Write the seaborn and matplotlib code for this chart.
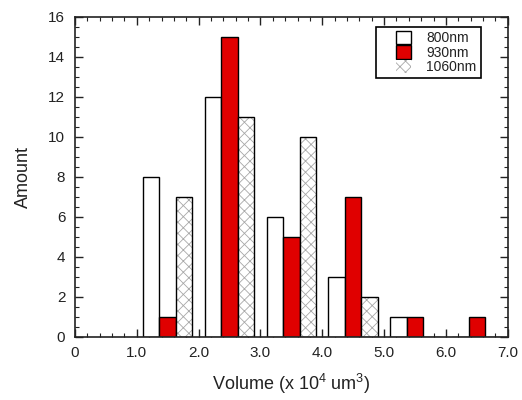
import matplotlib
matplotlib.use("Agg")
import matplotlib.pyplot as plt
import matplotlib.patches as mpatches
import pandas as pd
import seaborn as sns
from matplotlib.container import BarContainer
from matplotlib.legend_handler import HandlerPatch, update_from_first_child
from matplotlib.ticker import FixedLocator, MultipleLocator

# bin centres, volume in units of 10^4 um^3
volume_bins = [1.5, 2.5, 3.5, 4.5, 5.5, 6.5]
amount_800 = [8, 12, 6, 3, 1, 0]
amount_930 = [1, 15, 5, 7, 1, 1]
amount_1060 = [7, 11, 10, 2, 0, 0]
series_names = ["800nm", "930nm", "1060nm"]
x_ticks = [0, 1, 2, 3, 4, 5, 6, 7]
x_tick_labels = ["0", "1.0", "2.0", "3.0", "4.0", "5.0", "6.0", "7.0"]

df = pd.DataFrame({
    "volume": volume_bins * 3,
    "amount": amount_800 + amount_930 + amount_1060,
    "series": [s for s in series_names for _ in volume_bins],
})

sns.set_style("ticks")
plt.rcParams["font.family"] = ["Liberation Sans", "DejaVu Sans"]
plt.rcParams["mathtext.fontset"] = "custom"
plt.rcParams["mathtext.rm"] = "Liberation Sans"
plt.rcParams["mathtext.it"] = "Liberation Sans:italic"
plt.rcParams["hatch.linewidth"] = 0.6

fig = plt.figure(figsize=(5.22, 4.0), dpi=100)
ax = fig.add_axes([75 / 522, 1 - 336.7 / 400, 432.7 / 522, 320 / 400])

sns.barplot(data=df, x="volume", y="amount", hue="series", hue_order=series_names,
            native_scale=True, width=0.8, saturation=1, errorbar=None,
            legend=False, ax=ax)

# bar styles: open, solid red, grey cross-hatch
face_colors = ["white", "#e00000", "white"]
for cont, fc in zip(ax.containers, face_colors):
    for bar in cont:
        bar.set_facecolor(fc)
        bar.set_edgecolor("black")
        bar.set_linewidth(1.0)

for bar in ax.containers[2]:
    bar.set_edgecolor("#a8a8a8")
    bar.set_hatch("xxx")
    bar.set_linewidth(0)
    outline = mpatches.Rectangle(bar.get_xy(), bar.get_width(), bar.get_height(),
                                 fill=False, edgecolor="black", linewidth=1.0,
                                 zorder=bar.get_zorder() + 0.1)
    ax.add_patch(outline)


def narrow_patch(legend, orig_handle, xdescent, ydescent, width, height, fontsize):
    w = 1.1 * fontsize
    return mpatches.Rectangle((-xdescent + width - w, -ydescent), w, height)


handler = HandlerPatch(patch_func=narrow_patch, update_func=update_from_first_child)
leg = ax.legend(ax.containers, series_names, loc="upper right",
                bbox_to_anchor=(0.938, 0.968), borderaxespad=0,
                fontsize=10, labelspacing=0, handleheight=1.1,
                handlelength=2.2, handletextpad=1.1, borderpad=0.3,
                fancybox=False, framealpha=1, edgecolor="black",
                handler_map={BarContainer: handler})
leg.get_frame().set_linewidth(1.2)
for txt in leg.get_texts():
    txt.set_color("#222222")

ax.set_xlim(0, 7)
ax.set_ylim(0, 16)
ax.xaxis.set_major_locator(FixedLocator(x_ticks))
ax.set_xticklabels(x_tick_labels)
ax.xaxis.set_minor_locator(MultipleLocator(0.2))
ax.yaxis.set_major_locator(MultipleLocator(2))
ax.yaxis.set_minor_locator(MultipleLocator(0.5))
ax.tick_params(which="both", direction="in", top=True, right=True, colors="#222222")
ax.tick_params(which="major", length=6, width=1.0, labelsize=11, pad=7)
ax.tick_params(which="minor", length=3, width=0.8)
for spine in ax.spines.values():
    spine.set_visible(True)
    spine.set_linewidth(1.2)
    spine.set_color("#222222")

ax.set_xlabel("Volume (x 10$^{4}$ um$^{3}$)", fontsize=13, labelpad=8, color="#222222")
ax.set_ylabel("Amount", fontsize=13, labelpad=12, color="#222222")

fig.savefig("out.png", dpi=100)
